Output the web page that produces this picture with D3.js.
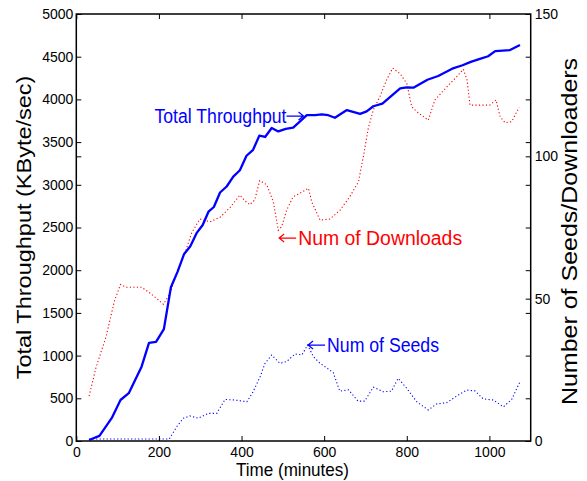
<!DOCTYPE html>
<html><head><meta charset="utf-8">
<script src="https://cdn.jsdelivr.net/npm/d3@7"></script>
<style>body{margin:0;background:#fff}svg{display:block}</style>
</head><body><svg id="c" width="587" height="481"></svg>
<script>
// ---- data ----
const throughputTime = [31,56,86,107,127,158,176,193,212,229,245,261,276,292,306,320,333,348,364,380,396,412,428,443,457,473,489,507,525,541,558,578,594,610,626,655,687,703,719,741,760,784,800,816,850,876,910,935,955,977,997,1014,1050,1074];
const throughputValues = [12,60,270,480,560,870,1150,1160,1310,1800,1980,2190,2280,2440,2530,2685,2740,2910,2980,3095,3170,3340,3410,3575,3560,3665,3625,3655,3670,3740,3815,3815,3825,3815,3785,3875,3830,3860,3920,3950,4030,4130,4140,4137,4230,4274,4360,4400,4440,4475,4505,4565,4578,4637];
const downloadsTime = [31,48,72,92,107,122,158,178,195,211,227,243,263,279,299,324,348,372,396,408,420,432,444,461,477,489,497,509,525,541,562,570,590,614,638,662,683,695,707,719,735,751,766,784,800,812,824,852,868,897,921,937,946,953,977,1001,1016,1026,1038,1054,1072];
const downloadsValues = [15.8,26,36.6,49,55,54,54,52,50,48,52,59,66,73,78,77,78.6,82,86.4,84.4,83,84.7,91.5,90,84,74,75.3,81,85.8,87,88.8,84,77.6,78,81,85.8,91,100,110,116.3,121,126.8,131,129,125.6,117.4,115.7,112.7,119.8,124.4,128,130.6,126.8,118,118,118,119.8,113.9,111.8,112.2,117.2];
const seedsTime = [31,56,86,107,127,158,176,193,212,225,243,259,275,295,320,340,360,384,413,428,445,457,473,493,509,530,546,560,574,590,614,622,638,659,682,698,719,743,763,779,800,824,852,872,897,921,945,965,985,1010,1034,1054,1074];
const seedsValues = [0.7,0.7,0.7,0.7,0.7,0.7,0.7,0.7,0.7,0.7,5,8,8.8,8,9.7,9.7,14.6,14.4,13.8,17.3,22.6,27.3,30.2,27.3,27.9,30.6,30.2,33.7,29.6,27.3,24.9,24,17.5,18,14,14,18.9,17.3,17.5,22,18.5,13.8,10.9,13,13.5,15.8,17.9,17.6,14.8,14.4,12,14.6,20.8];
const xTicks = [0,200,400,600,800,1000];
const leftTicks = [0,500,1000,1500,2000,2500,3000,3500,4000,4500,5000];
const rightTicks = [0,50,100,150];
const xLabel = "Time (minutes)";
const leftLabel = "Total Throughput (KByte/sec)";
const rightLabel = "Number of Seeds/Downloaders";
const annotations = [
  {text:"Total Throughput", t:550, v:3805, axis:"left", dir:"right", color:"#0000ff", w:132},
  {text:"Num of Downloads", t:491, v:71.3, axis:"right", dir:"left", color:"#ff0000", w:164},
  {text:"Num of Seeds", t:561, v:33.7, axis:"right", dir:"left", color:"#0000ff", w:112}
];

// ---- layout ----
const L = 76.3, R = 530.7, T = 14, B = 441;
const svg = d3.select("#c");
const x = d3.scaleLinear().domain([0,1100]).range([L,R]);
const yL = d3.scaleLinear().domain([0,5000]).range([B,T]);
const yR = d3.scaleLinear().domain([0,150]).range([B,T]);
const font = "'Liberation Sans', Arial, Helvetica, sans-serif";
const fmt = d3.format("d");

const zip = (a,b)=>a.map((d,i)=>[d,b[i]]);
svg.append("path").datum(zip(downloadsTime,downloadsValues))
  .attr("fill","none").attr("stroke","#ff0000").attr("stroke-width",1.1)
  .attr("stroke-dasharray","1.2,2.3")
  .attr("d", d3.line().x(d=>x(d[0])).y(d=>yR(d[1])));
svg.append("path").datum(zip(seedsTime,seedsValues))
  .attr("fill","none").attr("stroke","#0000ff").attr("stroke-width",1.1)
  .attr("stroke-dasharray","1.2,2.3")
  .attr("d", d3.line().x(d=>x(d[0])).y(d=>yR(d[1])));
svg.append("path").datum(zip(throughputTime,throughputValues))
  .attr("fill","none").attr("stroke","#0000ff").attr("stroke-width",2.3)
  .attr("stroke-linejoin","round")
  .attr("d", d3.line().x(d=>x(d[0])).y(d=>yL(d[1])));

function styleAxis(g, labels){
  g.select(".domain").remove();
  g.selectAll(".tick line").attr("stroke","#000").attr("stroke-width",1);
  g.selectAll(".tick text").attr("font-family",font).attr("font-size",14).attr("fill","#000");
  if(!labels) g.selectAll(".tick text").remove();
}
svg.append("g").attr("transform",`translate(0,${B})`)
  .call(d3.axisBottom(x).tickValues(xTicks).tickFormat(fmt).tickSizeInner(-5).tickSizeOuter(0).tickPadding(6))
  .call(g=>styleAxis(g,true));
svg.append("g").attr("transform",`translate(0,${T})`)
  .call(d3.axisTop(x).tickValues(xTicks).tickSizeInner(-5).tickSizeOuter(0))
  .call(g=>styleAxis(g,false));
svg.append("g").attr("transform",`translate(${L},0)`)
  .call(d3.axisLeft(yL).tickValues(leftTicks).tickFormat(fmt).tickSizeInner(-5).tickSizeOuter(0).tickPadding(3))
  .call(g=>styleAxis(g,true));
svg.append("g").attr("transform",`translate(${L},0)`)
  .call(d3.axisLeft(yR).tickValues(rightTicks).tickSizeInner(-5).tickSizeOuter(0))
  .call(g=>styleAxis(g,false));
svg.append("g").attr("transform",`translate(${R},0)`)
  .call(d3.axisRight(yR).tickValues(rightTicks).tickFormat(fmt).tickSizeInner(-5).tickSizeOuter(0).tickPadding(4))
  .call(g=>styleAxis(g,true));
svg.append("g").attr("transform",`translate(${R},0)`)
  .call(d3.axisRight(yL).tickValues(leftTicks).tickSizeInner(-5).tickSizeOuter(0))
  .call(g=>styleAxis(g,false));

svg.append("rect").attr("x",L).attr("y",T).attr("width",R-L).attr("height",B-T)
  .attr("fill","none").attr("stroke","#000").attr("stroke-width",1.5);

// axis titles
svg.append("text").attr("x",292.5).attr("y",476)
  .attr("text-anchor","middle").attr("font-family",font).attr("font-size",18.5)
  .attr("textLength",113).attr("lengthAdjust","spacingAndGlyphs")
  .text(xLabel);
svg.append("text").attr("transform",`translate(31,${(T+B)/2}) rotate(-90) scale(1,0.85)`)
  .attr("text-anchor","middle").attr("font-family",font).attr("font-size",23.5)
  .text(leftLabel);
svg.append("text").attr("transform",`translate(577,${(T+B)/2+4}) rotate(-90) scale(1,0.85)`)
  .attr("text-anchor","middle").attr("font-family",font).attr("font-size",25)
  .text(rightLabel);

// annotations
annotations.forEach(a=>{
  const px = x(a.t), py = (a.axis==="left"?yL:yR)(a.v);
  const g = svg.append("g").attr("stroke",a.color).attr("fill","none").attr("stroke-width",1.2);
  const len = 17, hs = 5;
  const txt = svg.append("text").attr("y",py+6.5)
      .attr("font-family",font).attr("font-size",20).attr("fill",a.color)
      .attr("textLength",a.w).attr("lengthAdjust","spacingAndGlyphs").text(a.text);
  if(a.dir==="right"){
    g.append("path").attr("d",`M${px-len},${py}H${px}M${px-hs},${py-hs*0.8}L${px},${py}L${px-hs},${py+hs*0.8}`);
    txt.attr("x",px-len-a.w);
  } else {
    g.append("path").attr("d",`M${px+len},${py}H${px}M${px+hs},${py-hs*0.8}L${px},${py}L${px+hs},${py+hs*0.8}`);
    txt.attr("x",px+len+2);
  }
});
</script></body></html>
